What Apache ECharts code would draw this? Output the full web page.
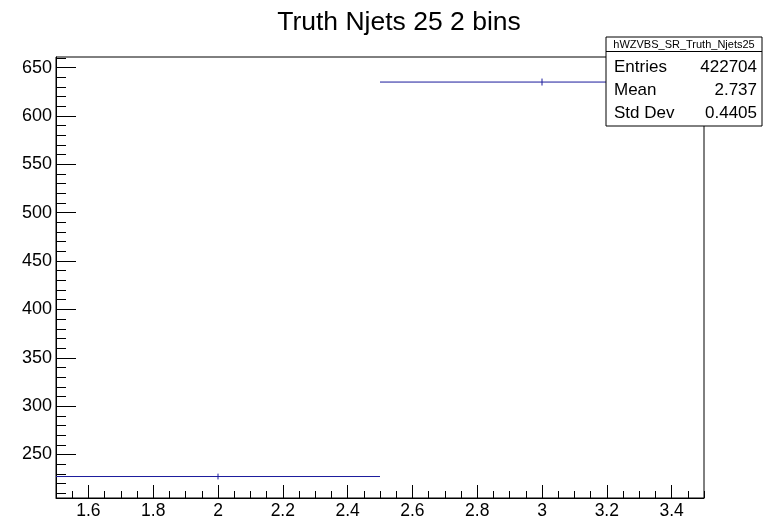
<!DOCTYPE html>
<html><head><meta charset="utf-8">
<script src="https://cdn.jsdelivr.net/npm/echarts@6/dist/echarts.min.js"></script>
<style>html,body{margin:0;padding:0;background:#fff}#c{width:764px;height:522px}</style>
</head><body><div id="c"></div>
<script>
// Data
const binLow = [1.5, 2.5];
const binHigh = [2.5, 3.5];
const binContent = [227.2, 635.1];
const binError = [3.0, 3.6];
const xLabels = [1.6, 1.8, 2.0, 2.2, 2.4, 2.6, 2.8, 3.0, 3.2, 3.4];
const yLabels = [250, 300, 350, 400, 450, 500, 550, 600, 650];
const xMinor = [];
for (let i = 0; i <= 40; i++) xMinor.push(+(1.5 + i * 0.05).toFixed(2));
const yMinor = [];
for (let v = 210; v <= 660; v += 10) yMinor.push(v);
const statsTitle = 'hWZVBS_SR_Truth_Njets25';
const statsRows = [['Entries', '422704'], ['Mean', '2.737'], ['Std Dev', '0.4405']];

const FONT = '"Liberation Sans", Arial, Helvetica, sans-serif';
const X_MIN = 1.5, X_MAX = 3.5, Y_MIN = 205, Y_MAX = 661;
const histColor = '#1a1a9c';

const chart = echarts.init(document.getElementById('c'), null, {renderer: 'canvas'});

const histData = binLow.map((lo, i) => [lo, binHigh[i], binContent[i], binError[i]]);

const statsGraphics = [];
const bx = 606, by = 37, bw = 156, bh = 89;
statsGraphics.push({type: 'rect', shape: {x: bx, y: by, width: bw, height: bh},
  style: {fill: '#fff', stroke: '#000', lineWidth: 1}, z: 100});
statsGraphics.push({type: 'line', shape: {x1: bx, y1: 51.5, x2: bx + bw, y2: 51.5},
  style: {stroke: '#000', lineWidth: 1}, z: 101});
statsGraphics.push({type: 'text', x: bx + bw / 2, y: 44.5, z: 102,
  style: {text: statsTitle, font: '11px ' + FONT, fill: '#000', align: 'center', verticalAlign: 'middle'}});
const rowY = [67.5, 90.5, 113];
statsRows.forEach((r, i) => {
  statsGraphics.push({type: 'text', x: 614, y: rowY[i], z: 102,
    style: {text: r[0], font: '17px ' + FONT, fill: '#000', align: 'left', verticalAlign: 'middle'}});
  statsGraphics.push({type: 'text', x: 757, y: rowY[i], z: 102,
    style: {text: r[1], font: '17px ' + FONT, fill: '#000', align: 'right', verticalAlign: 'middle'}});
});

const option = {
  animation: false,
  backgroundColor: '#fff',
  title: {text: 'Truth Njets 25 2 bins', left: 394, top: 4, textAlign: 'center',
    textStyle: {fontFamily: FONT, fontSize: 26.5, fontWeight: 'normal', color: '#000'}},
  grid: {left: 56, top: 57, right: 60, bottom: 24, show: true, borderColor: '#000', borderWidth: 1, backgroundColor: 'transparent'},
  xAxis: [
    {type: 'value', min: X_MIN, max: X_MAX, gridIndex: 0,
      axisLine: {show: true, lineStyle: {color: '#000', width: 1}},
      axisTick: {show: true, inside: true, length: 13, customValues: xLabels, lineStyle: {color: '#000'}},
      axisLabel: {show: true, customValues: xLabels, color: '#000', fontFamily: FONT, fontSize: 17.5, margin: 4,
        formatter: v => (Math.abs(v - Math.round(v)) < 1e-9 ? String(Math.round(v)) : v.toFixed(1))},
      splitLine: {show: false}},
    {type: 'value', min: X_MIN, max: X_MAX, gridIndex: 0, position: 'bottom',
      axisLine: {show: false},
      axisTick: {show: true, inside: true, length: 7, customValues: xMinor, lineStyle: {color: '#000'}},
      axisLabel: {show: false}, splitLine: {show: false}}
  ],
  yAxis: [
    {type: 'value', min: Y_MIN, max: Y_MAX, gridIndex: 0,
      axisLine: {show: true, lineStyle: {color: '#000', width: 1}},
      axisTick: {show: true, inside: true, length: 20, customValues: yLabels, lineStyle: {color: '#000'}},
      axisLabel: {show: true, customValues: yLabels, color: '#000', fontFamily: FONT, fontSize: 18, margin: 4},
      splitLine: {show: false}},
    {type: 'value', min: Y_MIN, max: Y_MAX, gridIndex: 0, position: 'left',
      axisLine: {show: false},
      axisTick: {show: true, inside: true, length: 10, customValues: yMinor, lineStyle: {color: '#000'}},
      axisLabel: {show: false}, splitLine: {show: false}}
  ],
  series: [{
    type: 'custom', xAxisIndex: 0, yAxisIndex: 0,
    data: histData,
    encode: {x: [0, 1], y: 2},
    clip: true,
    renderItem: function (params, api) {
      const lo = api.coord([api.value(0), api.value(2)]);
      const hi = api.coord([api.value(1), api.value(2)]);
      const cx = (api.value(0) + api.value(1)) / 2;
      const eTop = api.coord([cx, api.value(2) + api.value(3)]);
      const eBot = api.coord([cx, api.value(2) - api.value(3)]);
      return {type: 'group', children: [
        {type: 'line', shape: {x1: lo[0], y1: lo[1], x2: hi[0], y2: hi[1]},
          style: {stroke: histColor, lineWidth: 1}},
        {type: 'line', shape: {x1: eTop[0], y1: eTop[1], x2: eBot[0], y2: eBot[1]},
          style: {stroke: histColor, lineWidth: 1}}
      ]};
    }
  }],
  graphic: statsGraphics
};
chart.setOption(option);
</script>
</body></html>
